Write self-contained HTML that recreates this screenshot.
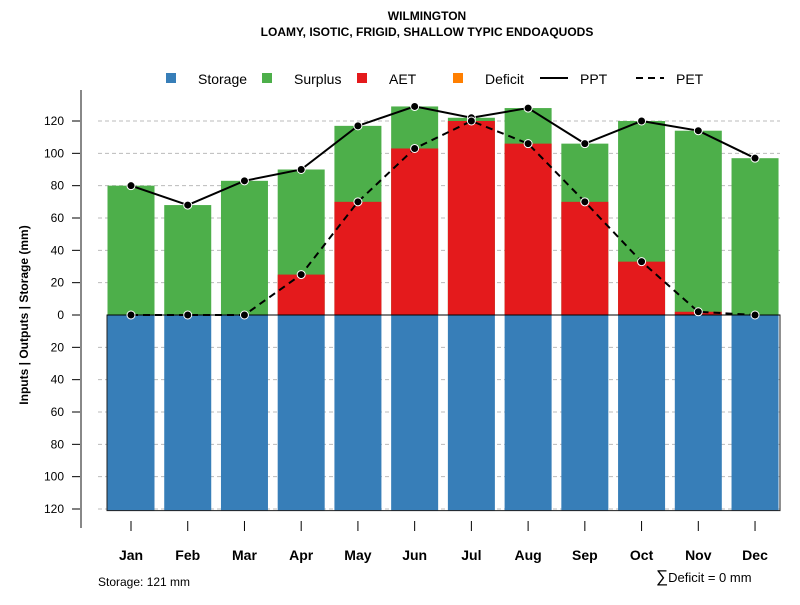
<!DOCTYPE html>
<html><head><meta charset="utf-8"><style>
body{margin:0;background:#fff}
text{font-family:"Liberation Sans",Arial,sans-serif}
</style></head><body>
<svg id="c" width="800" height="600" xmlns="http://www.w3.org/2000/svg">
<text x="427" y="20" text-anchor="middle" font-size="12" font-weight="bold">WILMINGTON</text>
<text x="427" y="36" text-anchor="middle" font-size="12" font-weight="bold">LOAMY, ISOTIC, FRIGID, SHALLOW TYPIC ENDOAQUODS</text>
<g>
<g><rect x="166" y="73" width="10" height="10" fill="#377eb8"/><text x="198" y="84" font-size="14">Storage</text></g>
<g><rect x="262" y="73" width="10" height="10" fill="#4daf4a"/><text x="294" y="84" font-size="14">Surplus</text></g>
<g><rect x="357" y="73" width="10" height="10" fill="#e41a1c"/><text x="389" y="84" font-size="14">AET</text></g>
<g><rect x="453" y="73" width="10" height="10" fill="#ff7f00"/><text x="485" y="84" font-size="14">Deficit</text></g>
<g><line x1="540" y1="78" x2="568" y2="78" stroke="#000" stroke-width="2"/><text x="580" y="84" font-size="14">PPT</text></g>
<g><line x1="636" y1="78" x2="664" y2="78" stroke="#000" stroke-width="2" stroke-dasharray="7,5"/><text x="676" y="84" font-size="14">PET</text></g>
</g>
<text transform="translate(28,315) rotate(-90)" text-anchor="middle" font-size="12" font-weight="bold">Inputs | Outputs | Storage    (mm)</text>
<text x="98" y="586" font-size="12">Storage: 121 mm</text>
<text x="656" y="582" font-size="13"><tspan font-size="17">∑</tspan>Deficit = 0 mm</text>
<g id="grid"></g><g id="bars"></g><g id="lines"></g><g id="axes"></g>
</svg>
<script>
const months=["Jan","Feb","Mar","Apr","May","Jun","Jul","Aug","Sep","Oct","Nov","Dec"];
const ppt=[80,68,83,90,117,129,122,128,106,120,114,97];
const pet=[0,0,0,25,70,103,120,106,70,33,2,0];
const aet=[0,0,0,25,70,103,120,106,70,33,2,0];
const storage=[121,121,121,121,121,121,121,121,121,121,121,121];
const yTicks=[120,100,80,60,40,20,0,-20,-40,-60,-80,-100,-120];
const NS="http://www.w3.org/2000/svg";
const y=v=>315-v*(194/120);
const x=i=>131+i*56.73;
const bw=47;
function mk(tag,attrs,parent){const e=document.createElementNS(NS,tag);for(const k in attrs)e.setAttribute(k,attrs[k]);document.getElementById(parent).appendChild(e);return e;}
yTicks.forEach(t=>{
 if(t!==0){const g=mk("line",{x1:98,x2:780,y1:y(t),y2:y(t),stroke:"#bbb","stroke-dasharray":"4,3"},"grid");
 
 }
 const tk=mk("line",{x1:72,x2:81,y1:y(t),y2:y(t),stroke:"#000"},"axes");
 
 
 const tl=mk("text",{x:64,y:y(t)+4,"text-anchor":"end","font-size":"12"},"axes");tl.textContent=Math.abs(t);
 
 
});
const ax=mk("line",{x1:81,x2:81,y1:90,y2:528,stroke:"#888","stroke-width":2},"axes");


months.forEach((m,i)=>{
 const cx=x(i),l=cx-bw/2;
 const sb=mk("rect",{x:l,y:y(0),width:bw,height:y(-storage[i])-y(0),fill:"#377eb8"},"bars");
 
 
 const top=Math.max(ppt[i],aet[i]);
 const gb=mk("rect",{x:l,y:y(top),width:bw,height:y(0)-y(top),fill:"#4daf4a"},"bars");
 
 
 if(aet[i]>0){const rb=mk("rect",{x:l,y:y(aet[i]),width:bw,height:y(0)-y(aet[i]),fill:"#e41a1c"},"bars");
 
 }
 const tk=mk("line",{x1:cx,x2:cx,y1:521,y2:531,stroke:"#000"},"axes");
 
 
 const lb=mk("text",{x:cx,y:560,"text-anchor":"middle","font-size":"14","font-weight":"bold"},"axes");lb.textContent=m;
 
 
});
const box=mk("rect",{x:107,y:y(0),width:673,height:y(-121)-y(0),fill:"none",stroke:"#222","stroke-width":1},"bars");


const zl=mk("line",{x1:107,x2:780,y1:y(0),y2:y(0),stroke:"#000"},"bars");


const pp=mk("polyline",{points:ppt.map((v,i)=>x(i)+","+y(v)).join(" "),fill:"none",stroke:"#000","stroke-width":2},"lines");


const pe=mk("polyline",{points:pet.map((v,i)=>x(i)+","+y(v)).join(" "),fill:"none",stroke:"#000","stroke-width":2,"stroke-dasharray":"7,5"},"lines");


[ppt,pet].forEach((s,k)=>s.forEach((v,i)=>{
 const p=mk("circle",{cx:x(i),cy:y(v),r:4,fill:"#000",stroke:"#fff","stroke-width":1},"lines");
 
 
}));
</script>
</body></html>
